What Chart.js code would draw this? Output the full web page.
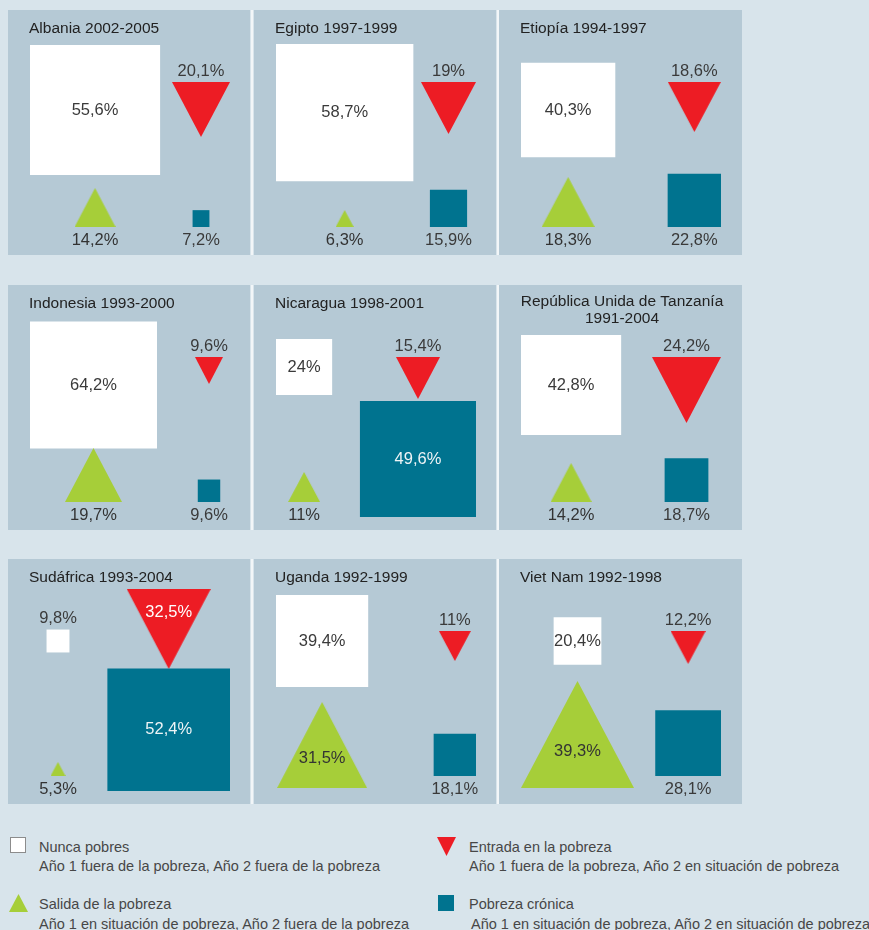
<!DOCTYPE html>
<html lang="es">
<head>
<meta charset="utf-8">
<title>Dinámica de la pobreza</title>
<script src="https://cdn.jsdelivr.net/npm/chart.js@4.4.1/dist/chart.umd.min.js"></script>
<style>
  body { margin: 0; width: 869px; height: 930px; overflow: hidden; position: relative;
         background: #d8e4eb; font-family: "Liberation Sans", Arial, sans-serif; }
  .panel { position: absolute; width: 242px; height: 245px; background: #b5c9d5; }
  .panel canvas { display: block; }
  .sep { position: absolute; width: 2px; height: 245px; background: #f2f6f8; }
  .leg { position: absolute; white-space: nowrap; font-size: 14.5px; line-height: 18px; color: #474747; }
  .ico { position: absolute; }
</style>
</head>
<body>
<div id="grid"></div>

<div class="ico" style="left:10px;top:837px"><svg width="16" height="16"><rect x="0.5" y="0.5" width="15" height="15" fill="#fff" stroke="#8c8c8c"/></svg></div>
<div class="leg" style="left:39px;top:838px">Nunca pobres</div>
<div class="leg" style="left:39px;top:857px">Año 1 fuera de la pobreza, Año 2 fuera de la pobreza</div>

<div class="ico" style="left:437px;top:837px"><svg width="19" height="19"><polygon points="0,0 19,0 9.5,19" fill="#ed1c24"/></svg></div>
<div class="leg" style="left:469px;top:838px">Entrada en la pobreza</div>
<div class="leg" style="left:469px;top:857px">Año 1 fuera de la pobreza, Año 2 en situación de pobreza</div>

<div class="ico" style="left:9px;top:894px"><svg width="19" height="18"><polygon points="9.5,0 19,18 0,18" fill="#a6ce39"/></svg></div>
<div class="leg" style="left:39px;top:895px">Salida de la pobreza</div>
<div class="leg" style="left:39px;top:915px">Año 1 en situación de pobreza, Año 2 fuera de la pobreza</div>

<div class="ico" style="left:438px;top:895px"><svg width="16" height="16"><rect width="16" height="16" fill="#00738f"/></svg></div>
<div class="leg" style="left:469px;top:895px">Pobreza crónica</div>
<div class="leg" style="left:471px;top:915px">Año 1 en situación de pobreza, Año 2 en situación de pobreza</div>

<script>
// datos (porcentajes de hogares)
const paises = ['Albania 2002-2005', 'Egipto 1997-1999', 'Etiopía 1994-1997',
                'Indonesia 1993-2000', 'Nicaragua 1998-2001', 'República Unida de Tanzanía\n1991-2004',
                'Sudáfrica 1993-2004', 'Uganda 1992-1999', 'Viet Nam 1992-1998'];
const nuncaPobres    = [55.6, 58.7, 40.3, 64.2, 24, 42.8, 9.8, 39.4, 20.4];
const entradaPobreza = [20.1, 19, 18.6, 9.6, 15.4, 24.2, 32.5, 11, 12.2];
const salidaPobreza  = [14.2, 6.3, 18.3, 19.7, 11, 14.2, 5.3, 31.5, 39.3];
const pobrezaCronica = [7.2, 15.9, 22.8, 9.6, 49.6, 18.7, 52.4, 18.1, 28.1];

const W = 242, H = 245;
const COLS = [8, 254, 499];
const ROWS = [10, 285, 559];
const BLANCO = '#ffffff', ROJO = '#ed1c24', VERDE = '#a6ce39', AZUL = '#00738f';

const fmt = v => String(v).replace('.', ',') + '%';

function triangulo(w, h, color, abajo) {
    const c = document.createElement('canvas');
    c.width = w; c.height = h;
    const g = c.getContext('2d');
    g.fillStyle = color;
    g.beginPath();
    if (abajo) { g.moveTo(0, 0); g.lineTo(w, 0); g.lineTo(w / 2, h); }
    else { g.moveTo(w / 2, 0); g.lineTo(w, h); g.lineTo(0, h); }
    g.closePath();
    g.fill();
    return c;
}

// reparto de las cuatro figuras dentro de cada recuadro
function figuras(i) {
    const gIn = salidaPobreza[i] > 30;
    const wG = Math.round(2.87 * salidaPobreza[i]), hG = Math.round(0.95 * wG);
    const gTop = (gIn ? 229 : 217) - hG;

    const cIn = pobrezaCronica[i] > 40;
    const wC = 2.34 * pobrezaCronica[i];
    const cBottom = cIn ? 232 : 217;

    const rIn = entradaPobreza[i] > 30;
    const wR = Math.round(Math.min(2.87 * entradaPobreza[i], 84)), hR = Math.round(0.95 * wR);
    const rTop = rIn ? 30 : 72;

    const wS = Math.min(2.34 * nuncaPobres[i], gTop - 36);
    let yS = (gIn || cIn) ? 82 : 100;
    yS = Math.max(yS, 34 + wS / 2);

    const xL = Math.max(50, 22 + Math.max(wS, wG) / 2);
    const xR = Math.min(201, 222 - Math.max(wR, wC) / 2);

    return [
        { x: xL, y: yS, style: 'rect', r: wS / Math.SQRT2, color: BLANCO,
          texto: fmt(nuncaPobres[i]), tx: xL, ty: wS >= 45 ? yS : yS - wS / 2 - 11, tc: '#3a3a3a' },
        { x: xR, y: rTop + hR / 2, style: triangulo(wR, hR, ROJO, true), r: wR / 2, color: ROJO,
          texto: fmt(entradaPobreza[i]), tx: xR, ty: rIn ? rTop + 0.29 * hR : rTop - 11, tc: rIn ? '#ffffff' : '#3a3a3a' },
        { x: xL, y: gTop + hG / 2, style: triangulo(wG, hG, VERDE, false), r: wG / 2, color: VERDE,
          texto: fmt(salidaPobreza[i]), tx: xL, ty: gIn ? gTop + 0.66 * hG : 230, tc: '#333333' },
        { x: xR, y: cBottom - wC / 2, style: 'rect', r: wC / Math.SQRT2, color: AZUL,
          texto: fmt(pobrezaCronica[i]), tx: xR, ty: cIn ? cBottom - wC / 2 : 230, tc: cIn ? '#eef4f6' : '#3a3a3a' }
    ];
}

const etiquetas = {
    id: 'etiquetas',
    afterDatasetsDraw(chart, args, opts) {
        const ctx = chart.ctx;
        ctx.save();
        ctx.textBaseline = 'middle';
        // titulo del recuadro
        ctx.fillStyle = '#222222';
        ctx.font = '15.5px "Liberation Sans", Arial, sans-serif';
        const lineas = opts.titulo.split('\n');
        if (lineas.length > 1) {
            ctx.textAlign = 'center';
            lineas.forEach((l, k) => ctx.fillText(l, W / 2 + 2, 17 + k * 17));
        } else {
            ctx.textAlign = 'left';
            ctx.fillText(lineas[0], 21, 19);
        }
        // valores
        ctx.font = '16.5px "Liberation Sans", Arial, sans-serif';
        ctx.textAlign = 'center';
        const pts = chart.getDatasetMeta(0).data;
        opts.figs.forEach((f, k) => {
            ctx.fillStyle = f.tc;
            ctx.fillText(f.texto, pts[k].x + (f.tx - f.x), pts[k].y + (f.ty - f.y));
        });
        ctx.restore();
    }
};

const grid = document.getElementById('grid');
paises.forEach((pais, i) => {
    const col = i % 3, row = Math.floor(i / 3);
    const panel = document.createElement('div');
    panel.className = 'panel';
    panel.style.left = COLS[col] + 'px';
    panel.style.top = ROWS[row] + 'px';
    if (col === 2) panel.style.width = (W + 1) + 'px';
    const canvas = document.createElement('canvas');
    canvas.width = W; canvas.height = H;
    panel.appendChild(canvas);
    grid.appendChild(panel);
    if (col < 2) {
        const sep = document.createElement('div');
        sep.className = 'sep';
        sep.style.left = (COLS[col] + W + 1) + 'px';
        sep.style.top = ROWS[row] + 'px';
        grid.appendChild(sep);
    }

    const figs = figuras(i);
    new Chart(canvas, {
        type: 'scatter',
        data: {
            datasets: [{
                data: figs.map(f => ({ x: f.x, y: f.y })),
                pointStyle: figs.map(f => f.style),
                pointRadius: figs.map(f => f.r),
                pointBackgroundColor: figs.map(f => f.color),
                pointBorderWidth: 0,
                clip: false
            }]
        },
        options: {
            responsive: false,
            animation: false,
            devicePixelRatio: 1,
            events: [],
            layout: { padding: 0, autoPadding: false },
            scales: {
                x: { type: 'linear', min: 0, max: W, display: false },
                y: { type: 'linear', min: 0, max: H, reverse: true, display: false }
            },
            plugins: {
                legend: { display: false },
                tooltip: { enabled: false },
                etiquetas: { titulo: pais, figs: figs }
            }
        },
        plugins: [etiquetas]
    });
});
</script>
</body>
</html>
